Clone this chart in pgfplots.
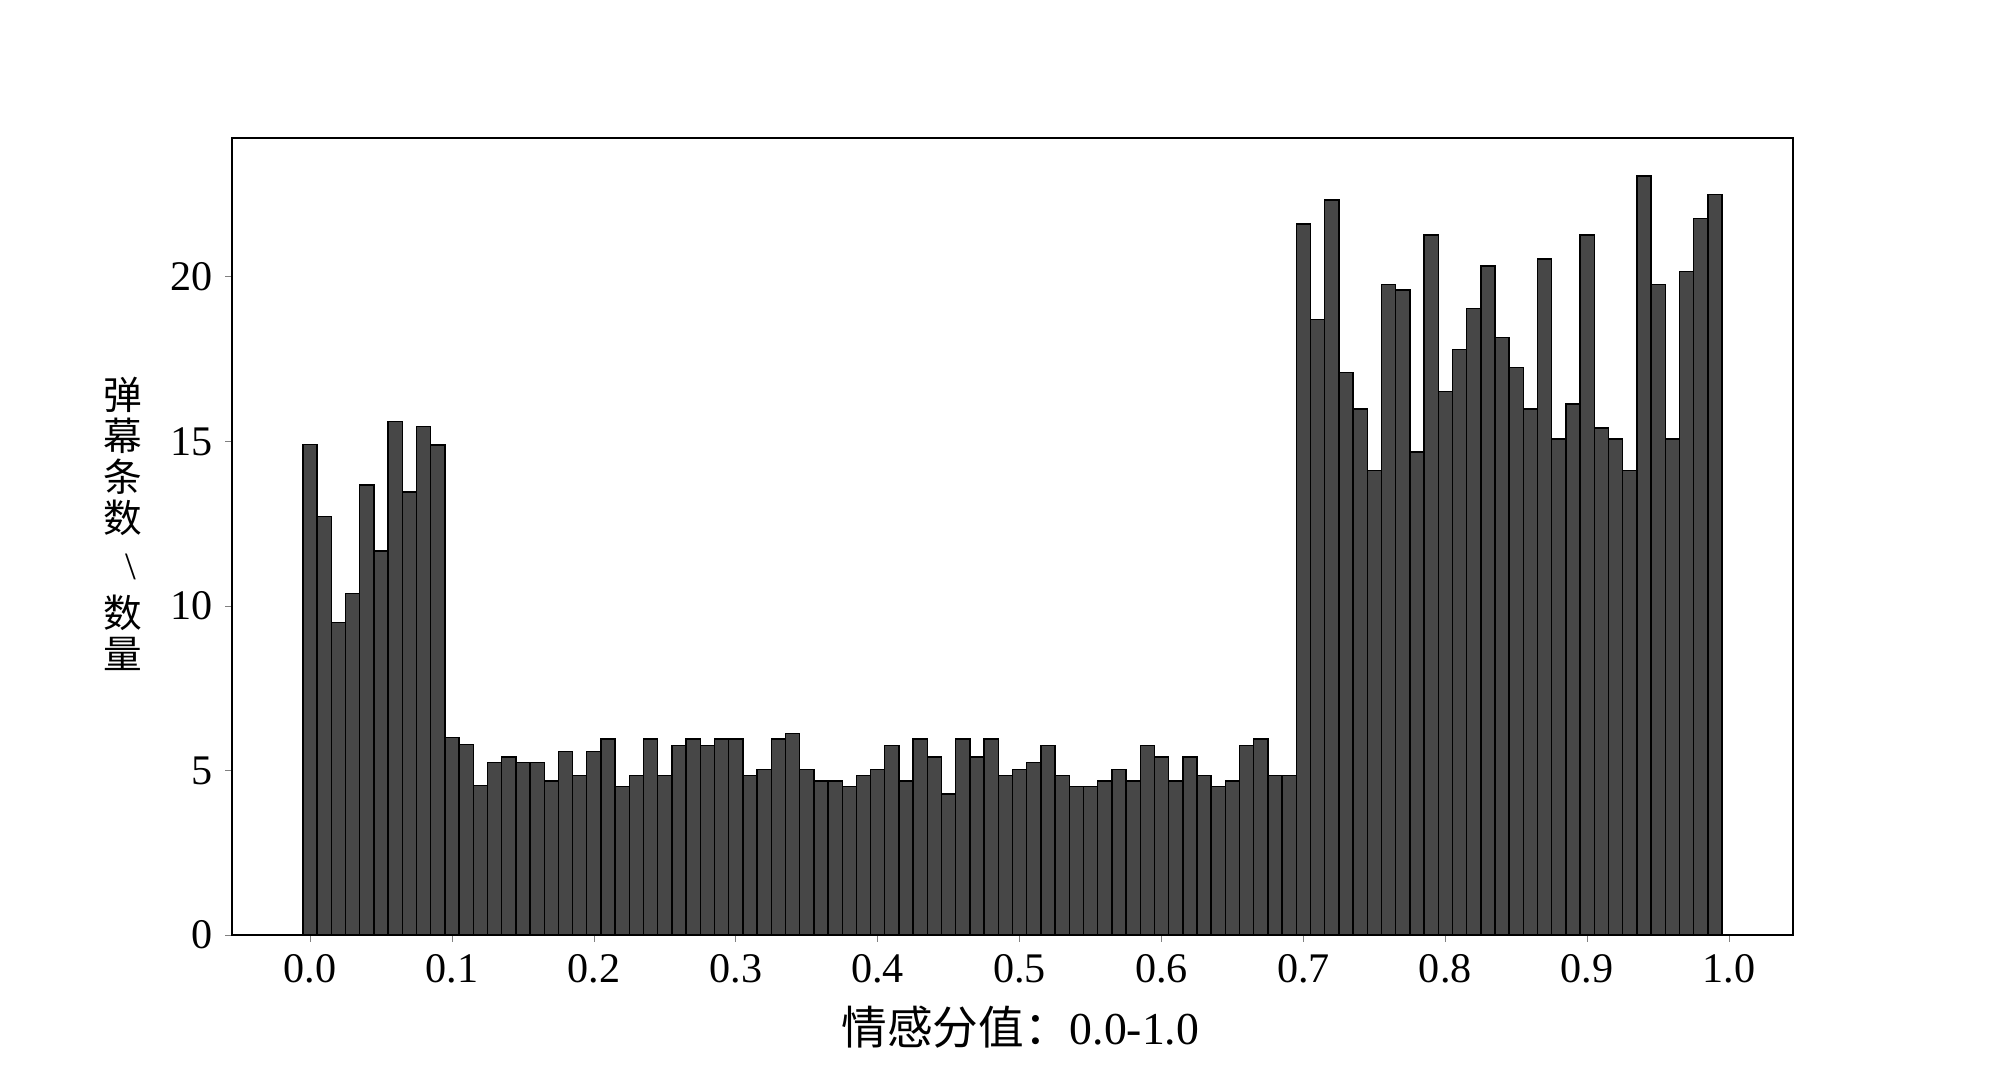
\documentclass[border=0pt]{standalone}
\usepackage{fontspec}
\setmainfont{Liberation Serif}
\newfontfamily\cjk{Noto Sans CJK SC}
\usepackage{pgfplots}
\pgfplotsset{compat=1.18}
\definecolor{barfill}{HTML}{474747}

\pgfplotstableread{
x y
0.00 14.90
0.01 12.72
0.02 9.49
0.03 10.38
0.04 13.67
0.05 11.67
0.06 15.61
0.07 13.46
0.08 15.45
0.09 14.89
0.10 6.00
0.11 5.78
0.12 4.55
0.13 5.24
0.14 5.41
0.15 5.24
0.16 5.24
0.17 4.68
0.18 5.58
0.19 4.85
0.20 5.58
0.21 5.96
0.22 4.51
0.23 4.85
0.24 5.96
0.25 4.85
0.26 5.75
0.27 5.96
0.28 5.75
0.29 5.96
0.30 5.96
0.31 4.85
0.32 5.02
0.33 5.96
0.34 6.13
0.35 5.02
0.36 4.68
0.37 4.68
0.38 4.51
0.39 4.85
0.40 5.02
0.41 5.75
0.42 4.68
0.43 5.96
0.44 5.41
0.45 4.29
0.46 5.96
0.47 5.41
0.48 5.96
0.49 4.85
0.50 5.02
0.51 5.24
0.52 5.75
0.53 4.85
0.54 4.51
0.55 4.51
0.56 4.68
0.57 5.02
0.58 4.68
0.59 5.75
0.60 5.41
0.61 4.68
0.62 5.41
0.63 4.85
0.64 4.51
0.65 4.68
0.66 5.75
0.67 5.96
0.68 4.85
0.69 4.85
0.70 21.61
0.71 18.70
0.72 22.34
0.73 17.09
0.74 15.98
0.75 14.11
0.76 19.77
0.77 19.60
0.78 14.68
0.79 21.27
0.80 16.52
0.81 17.80
0.82 19.04
0.83 20.33
0.84 18.15
0.85 17.25
0.86 15.98
0.87 20.54
0.88 15.07
0.89 16.13
0.90 21.27
0.91 15.41
0.92 15.07
0.93 14.11
0.94 23.07
0.95 19.77
0.96 15.07
0.97 20.16
0.98 21.77
0.99 22.50
}\scores

\begin{document}
\begin{tikzpicture}
\path[use as bounding box] (0,0) rectangle (20,10.69);
\begin{axis}[at={(2.32cm,1.34cm)},anchor=south west,
scale only axis,width=15.61cm,height=7.97cm,
xmin=-0.055,xmax=1.045,ymin=0,ymax=24.22,
xtick={0,0.1,...,1.0},ytick={0,5,10,15,20},
xticklabel style={/pgf/number format/.cd,fixed,fixed zerofill,precision=1},
/pgf/number format/assume math mode=true,
tick label style={font=\fontsize{12}{14}\selectfont},
tick align=outside,major tick length=0.07cm,
xtick pos=bottom,ytick pos=left,
axis line style={line width=0.6pt},
xlabel={{\cjk 情感分值：}0.0-1.0},
xlabel style={font=\fontsize{13}{15}\selectfont,anchor=base,at={(axis description cs:0.505,-0.138)}},
ylabel={{\cjk 弹}\\{\cjk 幕}\\{\cjk 条}\\{\cjk 数}\\[0.06cm]\hspace{0.15cm}\textbackslash\\[0.06cm]{\cjk 数}\\{\cjk 量}},
ylabel style={rotate=-90,align=center,anchor=center,font=\fontsize{11}{11.7}\selectfont,at={(axis description cs:-0.0698,0.516)}},
]
\addplot[ybar,bar width=0.01,fill=barfill,draw=black,line width=0.4pt] table[x=x,y=y] {\scores};
\end{axis}
\end{tikzpicture}
\end{document}
